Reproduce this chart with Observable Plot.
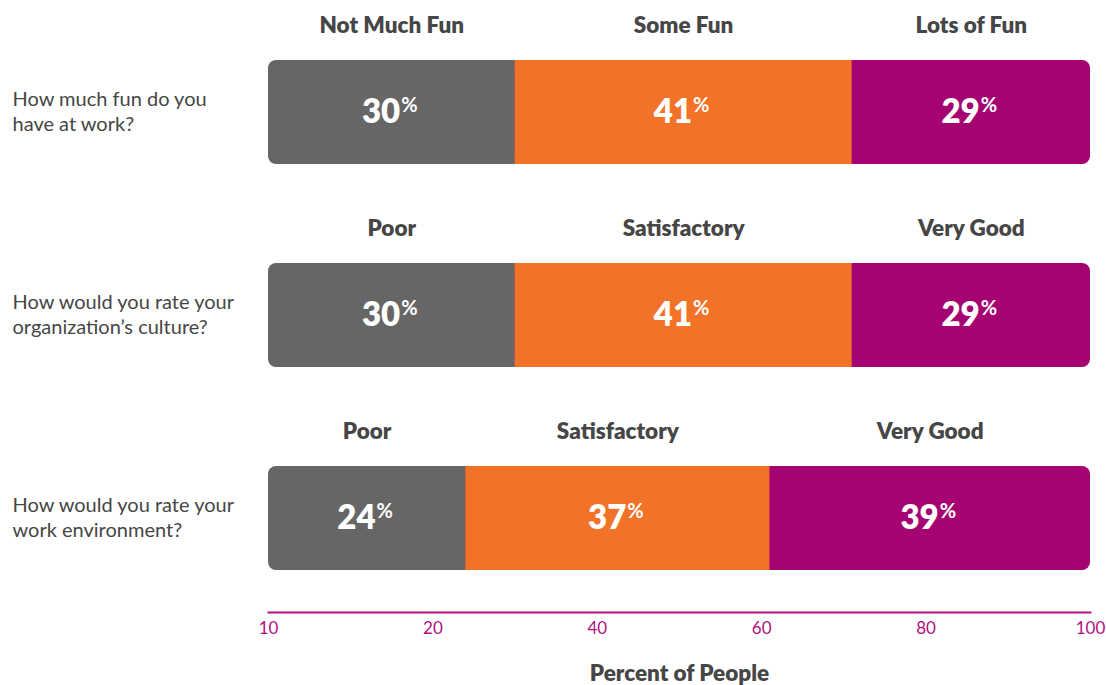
<!DOCTYPE html>
<html><head><meta charset="utf-8">
<script src="https://cdn.jsdelivr.net/npm/d3@7"></script>
<script src="https://cdn.jsdelivr.net/npm/@observablehq/plot@0.6"></script>
<style>body{margin:0;background:#fff;font-family:Lato,sans-serif}</style>
</head><body><div id="chart"></div>
<script>
// ---- data ----
const questions = [
  "How much fun do you\nhave at work?",
  "How would you rate your\norganization’s culture?",
  "How would you rate your\nwork environment?"
];
const categoryLabels = [
  ["Not Much Fun", "Some Fun", "Lots of Fun"],
  ["Poor", "Satisfactory", "Very Good"],
  ["Poor", "Satisfactory", "Very Good"]
];
const percentValues = [
  [30, 41, 29],
  [30, 41, 29],
  [24, 37, 39]
];
const xTickValues = [0, 20, 40, 60, 80, 100];
const xTickLabels = ["10", "20", "40", "60", "80", "100"];
const segmentColors = ["#666666", "#f27227", "#a50372"];
const axisColor = "#b0127f";
const textColor = "#464646";

// ---- derived tables ----
const segments = [];
const rows = questions.map((q, qi) => {
  const v = percentValues[qi];
  const s = [0, v[0], v[0] + v[1], v[0] + v[1] + v[2]];
  v.forEach((val, i) => segments.push({
    q, level: i, value: val, label: categoryLabels[qi][i],
    x1: s[i], x2: s[i + 1], mid: (s[i] + s[i + 1]) / 2
  }));
  return {q, s0: s[0], s1: s[1], s2: s[2], s3: s[3]};
});

const chart = Plot.plot({
  width: 1106,
  height: 685,
  marginLeft: 268,
  marginRight: 16,
  marginTop: 0,
  marginBottom: 73,
  style: {fontFamily: "Lato, sans-serif", background: "#fff"},
  x: {domain: [0, 100]},
  y: {domain: questions, range: [60, 570], paddingInner: 99 / 203, paddingOuter: 0, axis: null},
  marks: [
    // layered bars so only the outer corners are rounded
    Plot.barX(rows, {x1: "s0", x2: "s2", y: "q", fill: segmentColors[0], rx: 8}),
    Plot.barX(rows, {x1: "s1", x2: "s3", y: "q", fill: segmentColors[2], rx: 8}),
    Plot.barX(rows, {x1: "s1", x2: "s2", y: "q", fill: segmentColors[1]}),
    Plot.text(segments, {x: "mid", y: "q", text: d => d.value + "%", fill: "white",
      fontSize: 33, fontWeight: 800, dx: -2}),
    Plot.text(segments, {x: "mid", y: "q", text: "label", dy: -87, fill: textColor,
      fontSize: 22.5, fontWeight: 800}),
    Plot.text(rows, {y: "q", text: "q", frameAnchor: "left", dx: -256, dy: -2, textAnchor: "start",
      fontSize: 20, lineHeight: 1.25, fill: textColor}),
    Plot.frame({anchor: "bottom", stroke: axisColor, strokeWidth: 2}),
    Plot.axisX({ticks: xTickValues, tickFormat: d => xTickLabels[xTickValues.indexOf(d)],
      tickSize: 0, tickPadding: 9, fontSize: 17, color: axisColor, label: null}),
    Plot.axisX({ticks: [], label: "Percent of People", labelAnchor: "center", labelOffset: 68,
      labelArrow: "none", fontSize: 22.5, fontWeight: 800, color: textColor, tickSize: 0})
  ]
});

// superscript percent signs
d3.select(chart).selectAll("text").each(function() {
  const t = this.textContent;
  const m = /^(\d+)%$/.exec(t);
  if (m) {
    this.textContent = m[1];
    d3.select(this).append("tspan").attr("font-size", 20).attr("font-weight", 700)
      .attr("dy", -11).attr("dx", 1).text("%");
  }
});

document.getElementById("chart").appendChild(chart);
</script>
</body></html>
